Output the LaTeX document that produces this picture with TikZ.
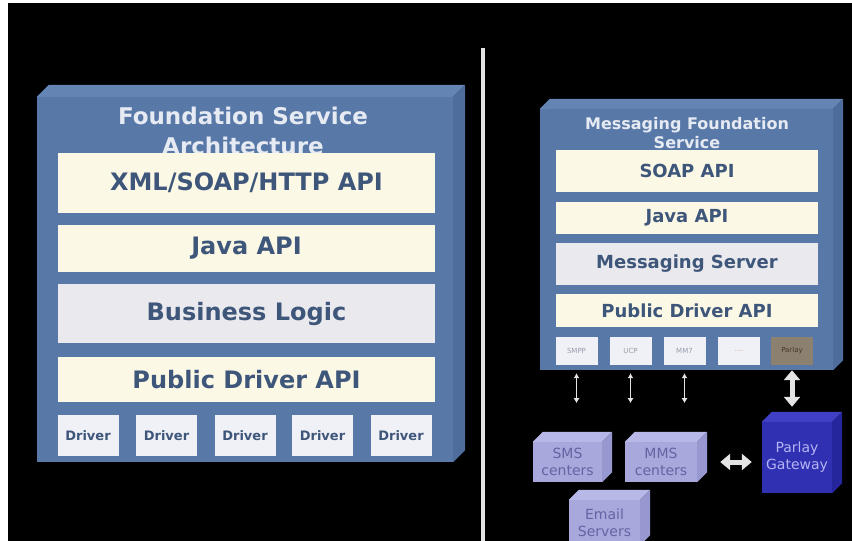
\documentclass[tikz,border=0pt]{standalone}
\usepackage{fontspec}
\setmainfont{DejaVu Sans}
\usetikzlibrary{arrows.meta}
\definecolor{boxblue}{RGB}{88,120,168}
\definecolor{boxtop}{RGB}{100,132,180}
\definecolor{boxside}{RGB}{78,108,156}
\definecolor{cream}{RGB}{251,248,230}
\definecolor{greylayer}{RGB}{234,234,238}
\definecolor{drvwhite}{RGB}{240,241,246}
\definecolor{labelblue}{RGB}{62,86,122}
\definecolor{titlewhite}{RGB}{230,234,242}
\definecolor{porttext}{RGB}{150,156,170}
\definecolor{dotpink}{RGB}{225,170,160}
\definecolor{parlaybrown}{RGB}{140,128,112}
\definecolor{parlaytext}{RGB}{70,56,44}
\definecolor{lav}{RGB}{168,168,220}
\definecolor{lavtop}{RGB}{184,184,232}
\definecolor{lavside}{RGB}{152,152,208}
\definecolor{cubetext}{RGB}{100,100,164}
\definecolor{gw}{RGB}{48,48,178}
\definecolor{gwtop}{RGB}{64,64,198}
\definecolor{gwside}{RGB}{38,38,156}
\definecolor{gwtext}{RGB}{180,180,244}
\definecolor{arrowwhite}{RGB}{228,228,228}

\begin{document}
\begin{tikzpicture}[x=1pt,y=-1pt,
  every node/.style={inner sep=0pt},
  title/.style={text=titlewhite,align=center},
  layer/.style={fill=cream,text=labelblue,font=\bfseries\fontsize{24}{29}\selectfont,minimum width=377pt},
  rlayer/.style={layer,font=\bfseries\fontsize{18}{22}\selectfont,minimum width=262pt},
  drv/.style={fill=drvwhite,text=labelblue,font=\bfseries\fontsize{13}{16}\selectfont,minimum width=61pt,minimum height=41pt},
  port/.style={fill=drvwhite,text=porttext,font=\fontsize{7}{8}\selectfont,minimum width=42pt,minimum height=28pt},
  cube/.style={fill=lav,text=cubetext,align=center,font=\fontsize{14}{17}\selectfont},
  thinarrow/.style={draw=arrowwhite,line width=1.5pt,{Latex[length=5pt,width=6pt]}-{Latex[length=5pt,width=6pt]}},
  fatarrow/.style={draw=arrowwhite,line width=5pt,{Triangle[length=10pt,width=16pt]}-{Triangle[length=10pt,width=16pt]}}]
  \useasboundingbox (0,0) rectangle (852,541);
  \clip (0,0) rectangle (852,541);
  \fill[white] (0,0) rectangle (852,541);
  \fill[black] (8,3) rectangle (852,541);
  \draw[arrowwhite,line width=4pt] (483,48) -- (483,541);

  % left stack
  \node[fill=boxblue,minimum width=416pt,minimum height=365pt] (fsa) at (245,279.5) {};
  \node[title,font=\bfseries\fontsize{23}{30}\selectfont] (fsatitle) at (243,131) {Foundation Service\\Architecture};
  \node[layer,minimum height=60pt] (xmlapi) at (246.5,183) {XML/SOAP/HTTP API};
  \node[layer,minimum height=47pt] (javaapi) at (246.5,248.5) {Java API};
  \node[layer,fill=greylayer,minimum height=59pt] (logic) at (246.5,313.5) {Business Logic};
  \node[layer,minimum height=45pt] (driverapi) at (246.5,379.5) {Public Driver API};
  \foreach \x [count=\i] in {88,166.5,245,322.5,401}
    \node[drv] (drv\i) at (\x,435.5) {Driver};

  % right stack
  \node[fill=boxblue,minimum width=293pt,minimum height=261pt] (mfs) at (686.5,239.5) {};
  \node[title,font=\bfseries\fontsize{16}{19}\selectfont] (mfstitle) at (687,133) {Messaging Foundation\\Service};
  \node[rlayer,minimum height=42pt] (soap) at (687,171) {SOAP API};
  \node[rlayer,minimum height=32pt] (rjava) at (687,218) {Java API};
  \node[rlayer,fill=greylayer,minimum height=42pt] (msgserver) at (687,264) {Messaging Server};
  \node[rlayer,minimum height=33pt] (rdriverapi) at (687,310.5) {Public Driver API};
  \foreach \n/\x/\t in {smpp/576.5/SMPP,ucp/630.5/UCP,mm7/684.5/MM7}
    \node[port] (\n) at (\x,351) {\t};
  \node[port,text=dotpink] (dots) at (739,351) {....};
  \node[port,fill=parlaybrown,text=parlaytext] (parlay) at (792,351) {Parlay};

  % back ends
  \node[cube,minimum width=69pt,minimum height=40pt] (sms) at (567.5,462) {SMS\\centers};
  \node[cube,minimum width=72pt,minimum height=40pt] (mms) at (661,462) {MMS\\centers};
  \node[cube,minimum width=71pt,minimum height=45pt] (mail) at (604.5,522.5) {Email\\Servers};
  \node[cube,fill=gw,text=gwtext,minimum width=70pt,minimum height=71pt] (pgw) at (797,457.5) {Parlay\\Gateway};

  \foreach \n/\d/\col in {fsa/12/box,mfs/10/box,sms/10/lav,mms/10/lav,mail/10/lav,pgw/10/gw} {
    \fill[\col top] (\n.north west) -- ++(\d,-\d) -- ([shift={(\d,-\d)}]\n.north east) -- (\n.north east) -- cycle;
    \fill[\col side] (\n.north east) -- ++(\d,-\d) -- ([shift={(\d,-\d)}]\n.south east) -- (\n.south east) -- cycle;
  }

  \foreach \n in {smpp,ucp,mm7} {
    \coordinate (\n end) at ([yshift=-38pt]\n.south);
    \draw[thinarrow,shorten <=8pt] (\n) -- (\n end);
  }
  \draw[fatarrow,shorten <=5pt,shorten >=15pt] (parlay.south) -- (parlay.south |- pgw.north);
  \draw[fatarrow,shorten <=23pt,shorten >=10pt] (mms.east) -- (mms.east -| pgw.west);
\end{tikzpicture}
\end{document}
